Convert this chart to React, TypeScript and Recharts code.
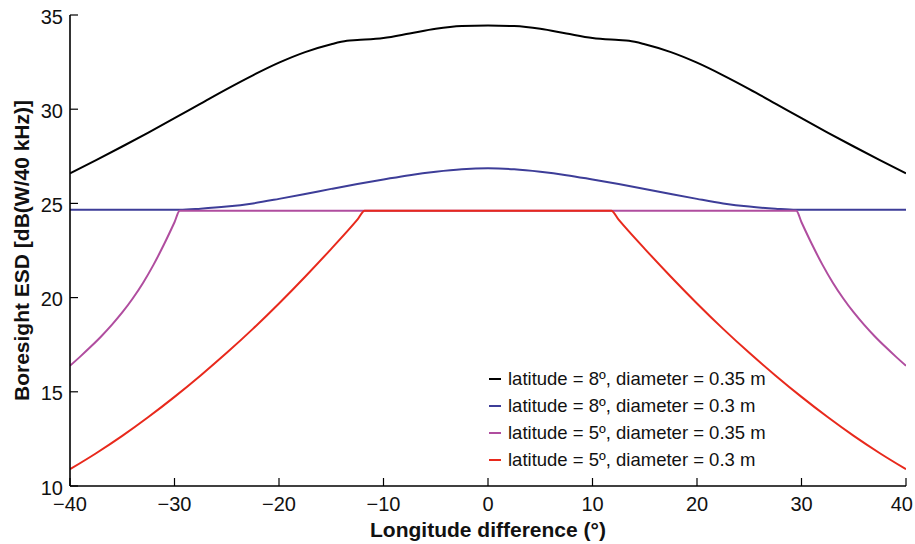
import React from 'react';
import { LineChart, Line, XAxis, YAxis } from 'recharts';

const xTicks = [-40, -30, -20, -10, 0, 10, 20, 30, 40];
const yTicks = [10, 15, 20, 25, 30, 35];

const seriesNames = [
  'latitude = 8º, diameter = 0.35 m',
  'latitude = 8º, diameter = 0.3 m',
  'latitude = 5º, diameter = 0.35 m',
  'latitude = 5º, diameter = 0.3 m',
];
const seriesColors = ['#000000', '#3d3d98', '#b04d9f', '#e8291c'];

const blackX = [-40, -37.5, -35, -32.5, -30, -27.5, -25, -22.5, -20, -17.5, -15, -13.5, -12.5, -10, -7.5, -5, -2.5, 0, 2.5, 5, 7.5, 10, 12.5, 13.5, 15, 17.5, 20, 22.5, 25, 27.5, 30, 32.5, 35, 37.5, 40];
const blackY = [26.6, 27.3, 28.02, 28.76, 29.52, 30.3, 31.07, 31.8, 32.47, 33.03, 33.45, 33.63, 33.67, 33.78, 34.02, 34.27, 34.41, 34.44, 34.41, 34.27, 34.02, 33.78, 33.67, 33.63, 33.45, 33.03, 32.47, 31.8, 31.07, 30.3, 29.52, 28.76, 28.02, 27.3, 26.6];

const blueX = [-40, -35, -30, -29.5, -27.5, -25, -22.5, -20, -17.5, -15, -12.5, -10, -7.5, -5, -2.5, 0, 2.5, 5, 7.5, 10, 12.5, 15, 17.5, 20, 22.5, 25, 27.5, 29.5, 30, 35, 40];
const blueY = [24.66, 24.66, 24.66, 24.66, 24.72, 24.83, 25.0, 25.24, 25.5, 25.77, 26.03, 26.27, 26.5, 26.68, 26.81, 26.86, 26.81, 26.68, 26.5, 26.27, 26.03, 25.77, 25.5, 25.24, 25.0, 24.83, 24.72, 24.66, 24.66, 24.66, 24.66];

const magentaX = [-40, -39, -38, -37, -36, -35, -34, -33, -32, -31, -30, -29.5, 0, 29.5, 30, 31, 32, 33, 34, 35, 36, 37, 38, 39, 40];
const magentaY = [16.38, 16.88, 17.4, 17.95, 18.55, 19.21, 19.95, 20.79, 21.75, 22.83, 24.0, 24.61, 24.61, 24.61, 24.0, 22.83, 21.75, 20.79, 19.95, 19.21, 18.55, 17.95, 17.4, 16.88, 16.38];

const redX = [-40, -37.5, -35, -32.5, -30, -27.5, -25, -22.5, -20, -17.5, -15, -12.5, -11.8, 0, 11.8, 12.5, 15, 17.5, 20, 22.5, 25, 27.5, 30, 32.5, 35, 37.5, 40];
const redY = [10.89, 11.74, 12.66, 13.66, 14.73, 15.87, 17.07, 18.34, 19.69, 21.11, 22.59, 24.14, 24.61, 24.61, 24.61, 24.14, 22.59, 21.11, 19.69, 18.34, 17.07, 15.87, 14.73, 13.66, 12.66, 11.74, 10.89];

const zip = (xs: number[], ys: number[]) => xs.map((x, i) => ({ x, y: ys[i] }));
const seriesData = [zip(blackX, blackY), zip(blueX, blueY), zip(magentaX, magentaY), zip(redX, redY)];

const FONT = '"Liberation Sans", Arial, Helvetica, sans-serif';
const fmt = (v: number) => (v < 0 ? '\u2212' + Math.abs(v) : String(v));
const TICK_LEN = 8;
const X_MARGIN = 10;
const Y_MARGIN = 7;

const BottomTick = (props: any) => {
  const { x, y, payload, index, visibleTicksCount } = props;
  const axisY = y - X_MARGIN;
  const isLast = index === visibleTicksCount - 1;
  return (
    <g>
      <line x1={x} x2={x} y1={axisY} y2={axisY - TICK_LEN} stroke="#000" strokeWidth={1.2} />
      <text x={isLast ? x + 7 : x} y={y} dy="0.75em" textAnchor={isLast ? 'end' : 'middle'} fontFamily={FONT} fontSize={20} fill="#111">
        {fmt(payload.value)}
      </text>
    </g>
  );
};

const TopTick = (props: any) => {
  const { x, y } = props;
  return <line x1={x} x2={x} y1={y} y2={y + TICK_LEN} stroke="#000" strokeWidth={1.2} />;
};

const LeftTick = (props: any) => {
  const { x, y, payload } = props;
  const axisX = x + Y_MARGIN;
  return (
    <g>
      <line x1={axisX} x2={axisX + TICK_LEN} y1={y} y2={y} stroke="#000" strokeWidth={1.2} />
      <text x={x} y={y} dy="0.43em" textAnchor="end" fontFamily={FONT} fontSize={20} fill="#111">
        {fmt(payload.value)}
      </text>
    </g>
  );
};

const RightTick = (props: any) => {
  const { x, y } = props;
  return <line x1={x} x2={x - TICK_LEN} y1={y} y2={y} stroke="#000" strokeWidth={1.2} />;
};

const LegendBox = () => (
  <div style={{ position: 'absolute', left: 489, top: 365, fontFamily: FONT, fontSize: 18.5, color: '#111', pointerEvents: 'none' }}>
    {seriesNames.map((n, i) => (
      <div key={n} style={{ display: 'flex', alignItems: 'center', height: 27, whiteSpace: 'nowrap' }}>
        <span style={{ display: 'inline-block', width: 12, height: 2, background: seriesColors[i], marginRight: 7 }} />
        <span>{n}</span>
      </div>
    ))}
  </div>
);

const YTitle = (props: any) => {
  const vb = props.viewBox || {};
  const cy = (vb.y || 0) + (vb.height || 0) / 2;
  return (
    <text x={21} y={cy} transform={`rotate(-90, 21, ${cy})`} textAnchor="middle" dominantBaseline="central"
      fontFamily={FONT} fontSize={21} fontWeight="bold" fill="#111">
      Boresight ESD [dB(W/40 kHz)]
    </text>
  );
};

const XTitle = (props: any) => {
  const vb = props.viewBox || {};
  const cx = (vb.x || 0) + (vb.width || 0) / 2;
  return (
    <text x={cx} y={537} textAnchor="middle" fontFamily={FONT} fontSize={21} fontWeight="bold" fill="#111">
      Longitude difference (°)
    </text>
  );
};

export default function App() {
  return (
    <div style={{ position: 'absolute', left: 0, top: 0, width: 915, height: 544, background: '#fff' }}>
      <LineChart width={915} height={544} margin={{ top: 15, right: 9, left: 0, bottom: 0 }}>
        <XAxis
          xAxisId="bottom"
          dataKey="x"
          type="number"
          domain={[-40, 40]}
          ticks={xTicks}
          allowDataOverflow
          height={58}
          tickSize={0}
          tickMargin={X_MARGIN}
          tick={<BottomTick />}
          axisLine={{ stroke: '#000', strokeWidth: 1.6 }}
          label={<XTitle />}
        />
        <XAxis
          xAxisId="top"
          orientation="top"
          dataKey="x"
          type="number"
          domain={[-40, 40]}
          ticks={xTicks}
          allowDataOverflow
          height={0}
          tickSize={0}
          tickMargin={0}
          tick={<TopTick />}
          axisLine={{ stroke: '#000', strokeWidth: 1.6 }}
        />
        <YAxis
          yAxisId="left"
          type="number"
          domain={[10, 35]}
          ticks={yTicks}
          allowDataOverflow
          width={70}
          tickSize={0}
          tickMargin={Y_MARGIN}
          tick={<LeftTick />}
          axisLine={{ stroke: '#000', strokeWidth: 1.6 }}
          label={<YTitle />}
        />
        <YAxis
          yAxisId="right"
          orientation="right"
          type="number"
          domain={[10, 35]}
          ticks={yTicks}
          allowDataOverflow
          width={0}
          tickSize={0}
          tickMargin={0}
          tick={<RightTick />}
          axisLine={{ stroke: '#000', strokeWidth: 1.6 }}
        />
        {seriesData.map((d, i) => (
          <Line
            key={seriesNames[i]}
            xAxisId="bottom"
            yAxisId="left"
            data={d}
            dataKey="y"
            name={seriesNames[i]}
            type="monotone"
            stroke={seriesColors[i]}
            strokeWidth={2}
            dot={false}
            activeDot={false}
            isAnimationActive={false}
          />
        ))}
      </LineChart>
      <LegendBox />
    </div>
  );
}
